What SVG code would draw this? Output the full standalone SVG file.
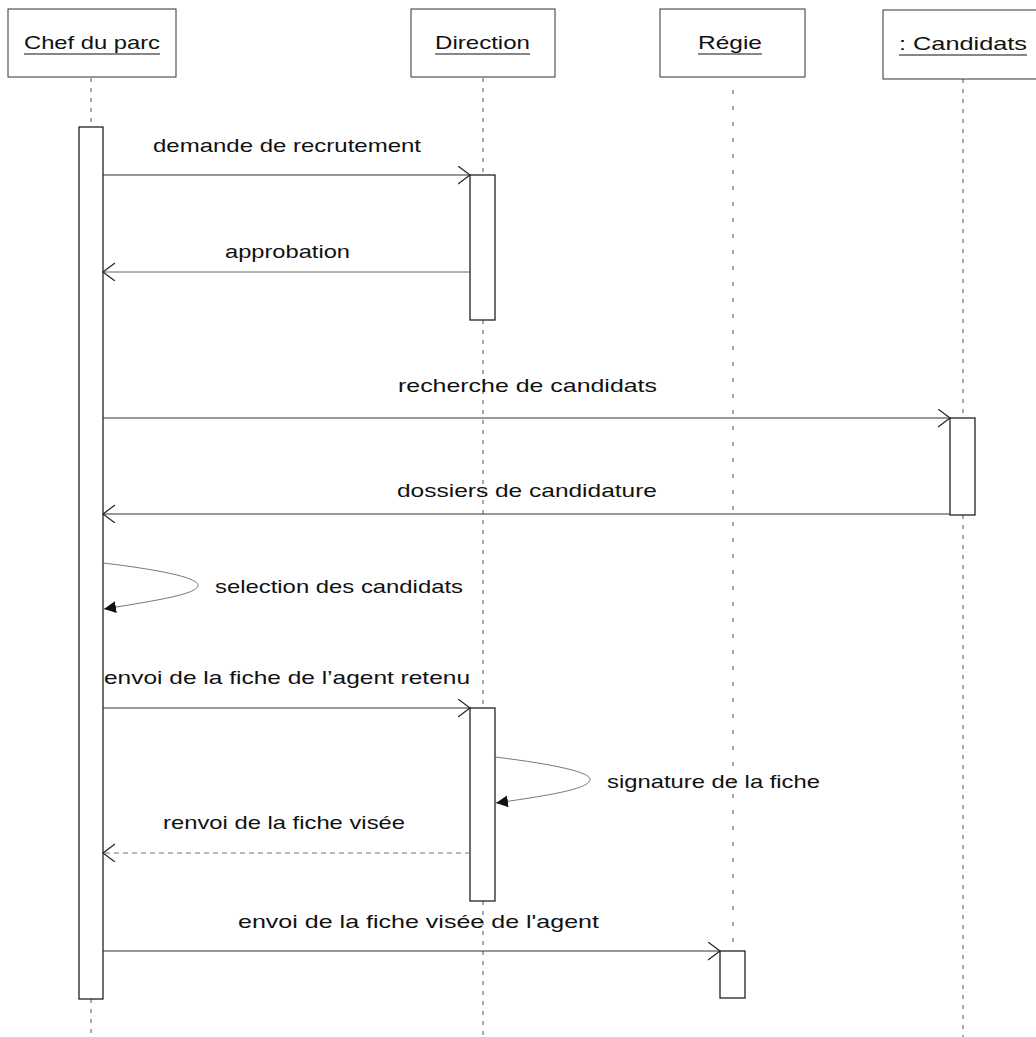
<svg xmlns="http://www.w3.org/2000/svg" width="1036" height="1037" viewBox="0 0 1036 1037">
<style>
.box{fill:#fff;stroke:#333;stroke-width:1}
.act{fill:#fff;stroke:#222;stroke-width:1.3}
.life{stroke:#555;stroke-width:1;stroke-dasharray:4 6;fill:none}
.msg{stroke:#333;stroke-width:1;fill:none}
.ret{stroke:#666;stroke-width:1;fill:none}
.dash{stroke:#777;stroke-width:1;stroke-dasharray:5 4;fill:none}
.self{stroke:#555;stroke-width:0.8;fill:none}
text{font-family:"Liberation Sans",Arial,sans-serif;font-size:19px;fill:#111}
.ul{stroke:#111;stroke-width:1.2}
</style>
<defs>
<marker id="open" markerWidth="14" markerHeight="20" refX="12" refY="9" orient="auto" markerUnits="userSpaceOnUse">
<path d="M0,0 L12,9 L0,18" fill="none" stroke="#222" stroke-width="1.2"/>
</marker>
<marker id="filled" markerWidth="14" markerHeight="14" refX="12" refY="6" orient="auto" markerUnits="userSpaceOnUse">
<path d="M0,0 L12,6 L0,12 z" fill="#111"/>
</marker>
</defs>

<g id="lifelines">
<line class="life" x1="91" y1="78" x2="91" y2="127"/>
<line class="life" x1="91" y1="999" x2="91" y2="1037"/>
<line class="life" x1="483" y1="78" x2="483" y2="175"/>
<line class="life" x1="483" y1="320" x2="483" y2="708"/>
<line class="life" x1="483" y1="901" x2="483" y2="1037"/>
<line class="life" x1="733" y1="90" x2="733" y2="951" style="stroke-dasharray:4 12"/>
<line class="life" x1="963" y1="79" x2="963" y2="418"/>
<line class="life" x1="963" y1="515" x2="963" y2="1037"/>
</g>

<g id="chef">
<rect class="box" x="8" y="9" width="168" height="68"/>
<text x="24" y="49" textLength="136" lengthAdjust="spacingAndGlyphs">Chef du parc</text>
<line class="ul" x1="24" y1="54" x2="160" y2="54"/>
<rect class="act" x="79" y="127" width="24" height="872"/>
</g>

<g id="direction">
<rect class="box" x="411" y="9" width="144" height="68"/>
<text x="435" y="49" textLength="95" lengthAdjust="spacingAndGlyphs">Direction</text>
<line class="ul" x1="435" y1="54" x2="530" y2="54"/>
<rect class="act" x="470" y="175" width="25" height="145"/>
<rect class="act" x="470" y="708" width="25" height="193"/>
</g>

<g id="regie">
<rect class="box" x="660" y="9" width="145" height="68"/>
<text x="698" y="49" textLength="64" lengthAdjust="spacingAndGlyphs">Régie</text>
<line class="ul" x1="698" y1="54" x2="762" y2="54"/>
<rect class="act" x="720" y="951" width="25" height="47"/>
</g>

<g id="candidats">
<rect class="box" x="883" y="10" width="170" height="69"/>
<text x="899" y="50" textLength="128" lengthAdjust="spacingAndGlyphs">: Candidats</text>
<line class="ul" x1="899" y1="55" x2="1027" y2="55"/>
<rect class="act" x="950" y="418" width="25" height="97"/>
</g>

<g id="connectors">
<line class="msg" x1="103" y1="175" x2="470" y2="175" marker-end="url(#open)"/>
<line class="ret" x1="470" y1="272" x2="103" y2="272" marker-end="url(#open)"/>
<line class="msg" x1="103" y1="418" x2="950" y2="418" marker-end="url(#open)"/>
<line class="msg" x1="950" y1="514" x2="103" y2="514" marker-end="url(#open)"/>
<path class="self" d="M103,563 C170,571 200,579 198,586 C196,594 160,600 104,609" marker-end="url(#filled)"/>
<line class="msg" x1="103" y1="708" x2="470" y2="708" marker-end="url(#open)"/>
<path class="self" d="M495,757 C560,765 592,773 590,780 C588,788 560,794 496,803" marker-end="url(#filled)"/>
<line class="dash" x1="470" y1="853" x2="103" y2="853" marker-end="url(#open)"/>
<line class="msg" x1="103" y1="951" x2="720" y2="951" marker-end="url(#open)"/>
</g>

<g id="labels">
<text x="153" y="152" textLength="268" lengthAdjust="spacingAndGlyphs">demande de recrutement</text>
<text x="225" y="258" textLength="125" lengthAdjust="spacingAndGlyphs">approbation</text>
<text x="398" y="392" textLength="259" lengthAdjust="spacingAndGlyphs">recherche de candidats</text>
<text x="397" y="497" textLength="260" lengthAdjust="spacingAndGlyphs">dossiers de candidature</text>
<text x="215" y="593" textLength="248" lengthAdjust="spacingAndGlyphs">selection des candidats</text>
<text x="104" y="684" textLength="366" lengthAdjust="spacingAndGlyphs">envoi de la fiche de l’agent retenu</text>
<text x="607" y="788" textLength="213" lengthAdjust="spacingAndGlyphs">signature de la fiche</text>
<text x="163" y="829" textLength="242" lengthAdjust="spacingAndGlyphs">renvoi de la fiche visée</text>
<text x="238" y="928" textLength="361" lengthAdjust="spacingAndGlyphs">envoi de la fiche visée de l'agent</text>
</g>
</svg>
